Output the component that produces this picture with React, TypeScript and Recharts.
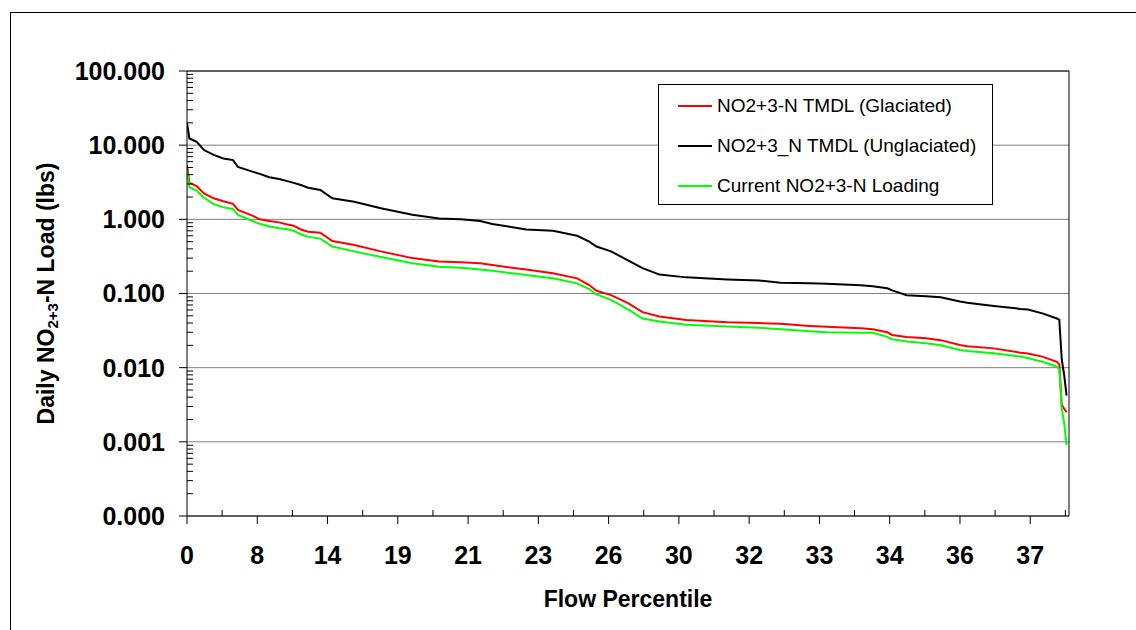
import React from 'react'
import { CartesianGrid, Legend, Line, LineChart, ReferenceLine, XAxis, YAxis } from 'recharts'

// position along the flow duration curve (0..364, one per day)
const flowIndex = [
  0, 1, 4, 7, 11, 15, 19, 21, 27, 30, 34, 38, 41, 44, 47, 50, 55, 60, 69, 80, 93, 104, 113, 121, 126,
  140, 151, 161, 166, 169, 175, 182, 188, 195, 206, 223, 236, 245, 257, 264, 278, 283, 289, 291, 297,
  305, 311, 319, 322, 333, 344, 347, 353, 359, 360, 361, 362, 363,
]
const glaciated = [
  5.4, 3.1, 2.8, 2.24, 1.92, 1.75, 1.62, 1.34, 1.12, 1.0, 0.95, 0.91, 0.86, 0.82, 0.73, 0.68, 0.66, 0.51,
  0.45, 0.37, 0.3, 0.27, 0.264, 0.255, 0.242, 0.21, 0.187, 0.16, 0.13, 0.109, 0.095, 0.074, 0.056, 0.049,
  0.044, 0.041, 0.04, 0.039, 0.0365, 0.0355, 0.034, 0.033, 0.03, 0.0276, 0.026, 0.0249, 0.0235, 0.0202,
  0.0195, 0.0182, 0.0159, 0.0155, 0.0141, 0.012, 0.011, 0.0032, 0.0028, 0.0025,
]
const unglaciated = [
  20, 12.3, 11.1, 8.6, 7.4, 6.6, 6.3, 5.1, 4.4, 4.1, 3.7, 3.5, 3.3, 3.1, 2.9, 2.67, 2.49, 1.92, 1.73, 1.41,
  1.15, 1.03, 1.0, 0.95, 0.865, 0.73, 0.7, 0.6, 0.5, 0.43, 0.37, 0.28, 0.22, 0.18, 0.165, 0.155, 0.15, 0.14,
  0.137, 0.135, 0.129, 0.125, 0.1175, 0.11, 0.095, 0.092, 0.089, 0.078, 0.075, 0.068, 0.062, 0.061, 0.054,
  0.046, 0.044, 0.013, 0.008, 0.0042,
]
const current = [
  4.6, 2.7, 2.45, 1.95, 1.61, 1.45, 1.38, 1.15, 0.95, 0.87, 0.8, 0.76, 0.74, 0.7, 0.63, 0.58, 0.55, 0.43,
  0.37, 0.31, 0.255, 0.23, 0.223, 0.21, 0.203, 0.178, 0.16, 0.137, 0.115, 0.097, 0.082, 0.061, 0.046, 0.042,
  0.038, 0.036, 0.0346, 0.033, 0.031, 0.03, 0.0295, 0.0295, 0.026, 0.0241, 0.0225, 0.0213, 0.02, 0.0173,
  0.0168, 0.0156, 0.0141, 0.0135, 0.012, 0.0103, 0.0095, 0.0028, 0.0018, 0.0009,
]

const tickIndex = [0, 29, 58, 87, 116, 145, 174, 203, 232, 261, 290, 319, 348]
const tickLabels = ['0', '8', '14', '19', '21', '23', '26', '30', '32', '33', '34', '36', '37']
const minorXTicks = [14.5, 43.5, 72.5, 101.5, 130.5, 159.5, 188.5, 217.5, 246.5, 275.5, 304.5, 333.5, 362.5]
const yTicks = [0.0001, 0.001, 0.01, 0.1, 1, 10, 100]
const minorYTicks: number[] = []
for (const d of [0.0001, 0.001, 0.01, 0.1, 1, 10]) {
  for (let k = 2; k <= 9; k++) minorYTicks.push(Number((d * k).toPrecision(3)))
}
const allXTicks = [...tickIndex, ...minorXTicks].sort((a, b) => a - b)
const allYTicks = [...yTicks, ...minorYTicks].sort((a, b) => a - b)

const seriesKeys = ['glaciated', 'unglaciated', 'current']
const seriesNames = ['NO2+3-N TMDL (Glaciated)', 'NO2+3_N TMDL (Unglaciated)', 'Current NO2+3-N Loading']
const seriesColors = ['#ff0000', '#000000', '#00ff00']

const data = flowIndex.map((i, n) => ({
  i,
  glaciated: glaciated[n],
  unglaciated: unglaciated[n],
  current: current[n],
}))

const FONT = '"Liberation Sans", Arial, sans-serif'
const MAJOR_TICK = 8
const MINOR_TICK = 6
const X_MARGIN = 22
const Y_MARGIN = 14

// major ticks point outward with a label, minor ticks point into the plot
function XTick(props: any) {
  const { x, y, payload } = props
  const axisY = y - MAJOR_TICK - X_MARGIN
  const k = tickIndex.indexOf(payload.value)
  if (k < 0) {
    return <line x1={x} x2={x} y1={axisY} y2={axisY - MINOR_TICK} stroke="#000" />
  }
  return (
    <g>
      <line x1={x} x2={x} y1={axisY} y2={axisY + MAJOR_TICK} stroke="#000" />
      <text x={x} y={y} dy="0.71em" textAnchor="middle" fontFamily={FONT} fontWeight="bold" fontSize={25} fill="#000">
        {tickLabels[k]}
      </text>
    </g>
  )
}

function YTick(props: any) {
  const { x, y, payload } = props
  const axisX = x + MAJOR_TICK + Y_MARGIN
  if (!yTicks.includes(payload.value)) {
    return <line x1={axisX} x2={axisX + MINOR_TICK} y1={y} y2={y} stroke="#000" />
  }
  return (
    <g>
      <line x1={axisX - MAJOR_TICK} x2={axisX} y1={y} y2={y} stroke="#000" />
      <text x={x} y={y} dy="0.355em" textAnchor="end" fontFamily={FONT} fontWeight="bold" fontSize={25} fill="#000">
        {Number(payload.value).toFixed(3)}
      </text>
    </g>
  )
}

function YTitle(props: any) {
  const vb = props.viewBox ?? {}
  const cx = (vb.x ?? 87) - 33
  const cy = (vb.y ?? 71) + (vb.height ?? 445) / 2
  return (
    <text
      x={cx}
      y={cy}
      transform={`rotate(-90, ${cx}, ${cy})`}
      textAnchor="middle"
      fontFamily={FONT}
      fontWeight="bold"
      fontSize={23}
      fill="#000"
    >
      Daily NO
      <tspan fontSize={15} dy={4}>2+3</tspan>
      <tspan dy={-4}>-N Load (lbs)</tspan>
    </text>
  )
}

function XTitle(props: any) {
  const vb = props.viewBox ?? {}
  const cx = (vb.x ?? 187) + (vb.width ?? 882) / 2
  const y = (vb.y ?? 516) + 91
  return (
    <text x={cx} y={y} textAnchor="middle" fontFamily={FONT} fontWeight="bold" fontSize={23} fill="#000">
      Flow Percentile
    </text>
  )
}

function LegendBox() {
  return (
    <div
      style={{
        boxSizing: 'border-box',
        width: 335,
        height: 121,
        border: '1px solid #000',
        background: '#fff',
        paddingTop: 1,
        fontFamily: FONT,
        fontSize: 19,
        color: '#000',
      }}
    >
      {seriesNames.map((name, i) => (
        <div key={name} style={{ height: 40, display: 'flex', alignItems: 'center' }}>
          <span style={{ display: 'inline-block', width: 34, height: 2, marginLeft: 19, marginRight: 5, background: seriesColors[i] }} />
          <span style={{ whiteSpace: 'nowrap' }}>{name}</span>
        </div>
      ))}
    </div>
  )
}

export default function App() {
  return (
    <div style={{ position: 'absolute', left: 0, top: 0, width: 1136, height: 630, overflow: 'hidden', background: '#fff' }}>
      <div style={{ position: 'absolute', left: 10, top: 12, width: 1300, height: 800, border: '1px solid #000' }} />
      <LineChart width={1136} height={630} data={data} margin={{ top: 71, right: 67, bottom: 54, left: 87 }}>
        <CartesianGrid vertical={false} stroke="#808080" horizontalValues={yTicks} />
        <XAxis
          dataKey="i"
          type="number"
          domain={[0, 364]}
          allowDataOverflow
          ticks={allXTicks}
          interval={0}
          height={60}
          tickSize={MAJOR_TICK}
          tickMargin={X_MARGIN}
          axisLine={{ stroke: '#000' }}
          tickLine={false}
          tick={<XTick />}
          label={<XTitle />}
        />
        <YAxis
          scale="log"
          domain={[0.0001, 100]}
          allowDataOverflow
          ticks={allYTicks}
          interval={0}
          width={100}
          tickSize={MAJOR_TICK}
          tickMargin={Y_MARGIN}
          axisLine={{ stroke: '#000' }}
          tickLine={false}
          tick={<YTick />}
          label={<YTitle />}
        />
        <ReferenceLine y={100} stroke="#000" />
        <ReferenceLine x={364} stroke="#000" />
        <Legend
          layout="horizontal"
          verticalAlign="middle"
          align="center"
          content={<LegendBox />}
          wrapperStyle={{ left: 658, top: 84, width: 335, height: 121 }}
        />
        {seriesKeys.map((key, i) => (
          <Line
            key={key}
            dataKey={key}
            name={seriesNames[i]}
            type="linear"
            stroke={seriesColors[i]}
            strokeWidth={2}
            dot={false}
            isAnimationActive={false}
          />
        ))}
      </LineChart>
    </div>
  )
}
